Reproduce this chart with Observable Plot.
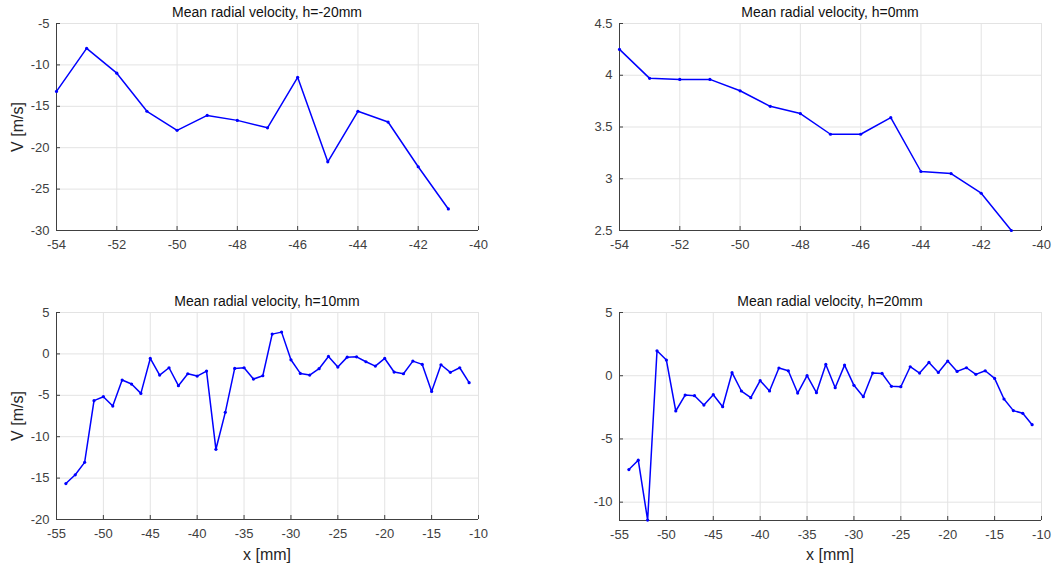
<!DOCTYPE html>
<html><head><meta charset="utf-8">
<script src="https://cdn.jsdelivr.net/npm/d3@7"></script>
<script src="https://cdn.jsdelivr.net/npm/@observablehq/plot@0.6"></script>
<style>
body{margin:0;background:#fff;font-family:"Liberation Sans",Arial,sans-serif}
#wrap{position:relative;width:1061px;height:568px;overflow:hidden}
.p{position:absolute}
.t{position:absolute;font-size:14px;color:#111;white-space:nowrap;transform:translate(-50%,-50%)}
.yl{position:absolute;font-size:16px;color:#262626;white-space:nowrap;transform:translate(-50%,-50%) rotate(-90deg)}
.xl{position:absolute;font-size:16px;color:#262626;white-space:nowrap;transform:translate(-50%,-50%)}
</style></head>
<body><div id="wrap"></div>
<script>
// Panel 1: h=-20mm
const xA = [-54,-53,-52,-51,-50,-49,-48,-47,-46,-45,-44,-43,-42,-41];
const vHm20 = [-13.2,-8.0,-11.0,-15.6,-17.9,-16.1,-16.7,-17.6,-11.5,-21.7,-15.6,-16.9,-22.3,-27.4];
// Panel 2: h=0mm
const vH0 = [4.25,3.97,3.96,3.96,3.85,3.70,3.63,3.43,3.43,3.59,3.07,3.05,2.86,2.50];
// Panels 3 and 4: x from -54 to -11
const xB = [-54,-53,-52,-51,-50,-49,-48,-47,-46,-45,-44,-43,-42,-41,-40,-39,-38,-37,-36,-35,-34,-33,-32,-31,-30,-29,-28,-27,-26,-25,-24,-23,-22,-21,-20,-19,-18,-17,-16,-15,-14,-13,-12,-11];
const vH10 = [-15.66,-14.6,-13.1,-5.65,-5.17,-6.3,-3.16,-3.64,-4.77,-0.55,-2.56,-1.67,-3.84,-2.4,-2.68,-2.07,-11.52,-7.06,-1.75,-1.67,-3.04,-2.64,2.39,2.63,-0.71,-2.36,-2.56,-1.79,-0.31,-1.59,-0.39,-0.35,-0.95,-1.47,-0.55,-2.19,-2.4,-0.87,-1.27,-4.53,-1.31,-2.23,-1.67,-3.48];
const vH20 = [-7.42,-6.68,-11.42,1.97,1.24,-2.79,-1.53,-1.58,-2.32,-1.5,-2.45,0.24,-1.21,-1.74,-0.39,-1.21,0.61,0.39,-1.37,0.0,-1.34,0.89,-0.95,0.84,-0.76,-1.66,0.21,0.18,-0.84,-0.87,0.71,0.21,1.05,0.26,1.16,0.34,0.63,0.11,0.39,-0.21,-1.84,-2.76,-2.97,-3.87];

const titles = ["Mean radial velocity, h=-20mm","Mean radial velocity, h=0mm","Mean radial velocity, h=10mm","Mean radial velocity, h=20mm"];
const xTicksA = [-54,-52,-50,-48,-46,-44,-42,-40];
const xTicksB = [-55,-50,-45,-40,-35,-30,-25,-20,-15,-10];
const yTicks1 = [-30,-25,-20,-15,-10,-5];
const yTicks2 = [2.5,3,3.5,4,4.5];
const yTicks3 = [-20,-15,-10,-5,0,5];
const yTicks4 = [-10,-5,0,5];
const yLabel = "V [m/s]";
const xLabel = "x [mm]";

const panels = [
  {left:0, top:0, w:520, h:270, mL:56, mR:42, mT:23, mB:40, xs:xA, ys:vHm20, xd:[-54,-40], yd:[-30,-5], xt:xTicksA, yt:yTicks1, title:titles[0], yl:true, xl:false},
  {left:530, top:0, w:531, h:270, mL:89, mR:20, mT:23, mB:40, xs:xA, ys:vH0, xd:[-54,-40], yd:[2.5,4.5], xt:xTicksA, yt:yTicks2, title:titles[1], yl:false, xl:false},
  {left:0, top:285, w:520, h:283, mL:56, mR:42, mT:27, mB:49, xs:xB, ys:vH10, xd:[-55,-10], yd:[-20,5], xt:xTicksB, yt:yTicks3, title:titles[2], yl:true, xl:true},
  {left:530, top:285, w:531, h:283, mL:89, mR:20, mT:27, mB:48, xs:xB, ys:vH20, xd:[-55,-10], yd:[-11.45,5], xt:xTicksB, yt:yTicks4, title:titles[3], yl:false, xl:true}
];

const wrap = document.getElementById("wrap");
const axisColor = "#404040";
const gridColor = "#e3e3e3";

for (const p of panels) {
  const data = p.xs.map((x,i)=>({x, v:p.ys[i]}));
  const ph = p.h - p.mT - p.mB;
  const pw = p.w - p.mL - p.mR;
  const tickY = 4/ph*(p.yd[1]-p.yd[0]);
  const tickX = 4/pw*(p.xd[1]-p.xd[0]);
  const chart = Plot.plot({
    width:p.w, height:p.h,
    marginLeft:p.mL, marginRight:p.mR, marginTop:p.mT, marginBottom:p.mB,
    style:{fontFamily:'"Liberation Sans", Arial, sans-serif', fontSize:"13px", color:axisColor, background:"transparent"},
    x:{domain:p.xd, ticks:p.xt, tickFormat:d=>String(d), tickSize:0, tickPadding:9, label:null},
    y:{domain:p.yd, ticks:p.yt, tickFormat:d=>String(d), tickSize:0, tickPadding:7, label:null},
    marks:[
      Plot.ruleX(p.xt, {stroke:gridColor, strokeWidth:1}),
      Plot.ruleY(p.yt.concat([p.yd[1]]), {stroke:gridColor, strokeWidth:1}),
      Plot.ruleX([p.xd[1]], {stroke:gridColor}),
      Plot.ruleX(p.xt, {x:d=>d, y1:p.yd[0], y2:p.yd[0]+tickY, stroke:axisColor}),
      Plot.ruleY(p.yt, {y:d=>d, x1:p.xd[0], x2:p.xd[0]+tickX, stroke:axisColor}),
      Plot.ruleY([p.yd[0]], {stroke:axisColor}),
      Plot.ruleX([p.xd[0]], {stroke:axisColor}),
      Plot.line(data, {x:"x", y:"v", stroke:"#0000ff", strokeWidth:1.5}),
      Plot.dot(data, {x:"x", y:"v", r:1.6, fill:"#0000ff", stroke:"none"})
    ]
  });
  chart.classList.add("p");
  chart.style.left = p.left+"px";
  chart.style.top = p.top+"px";
  wrap.appendChild(chart);

  const cx = p.left + p.mL + pw/2;
  const t = document.createElement("div");
  t.className = "t"; t.textContent = p.title;
  t.style.left = cx+"px"; t.style.top = (p.top + p.mT - 11)+"px";
  wrap.appendChild(t);
  if (p.yl) {
    const y = document.createElement("div");
    y.className = "yl"; y.textContent = yLabel;
    y.style.left = "18px"; y.style.top = (p.top + p.mT + ph/2)+"px";
    wrap.appendChild(y);
  }
  if (p.xl) {
    const x = document.createElement("div");
    x.className = "xl"; x.textContent = xLabel;
    x.style.left = cx+"px"; x.style.top = "555px";
    wrap.appendChild(x);
  }
}
</script>
</body></html>
